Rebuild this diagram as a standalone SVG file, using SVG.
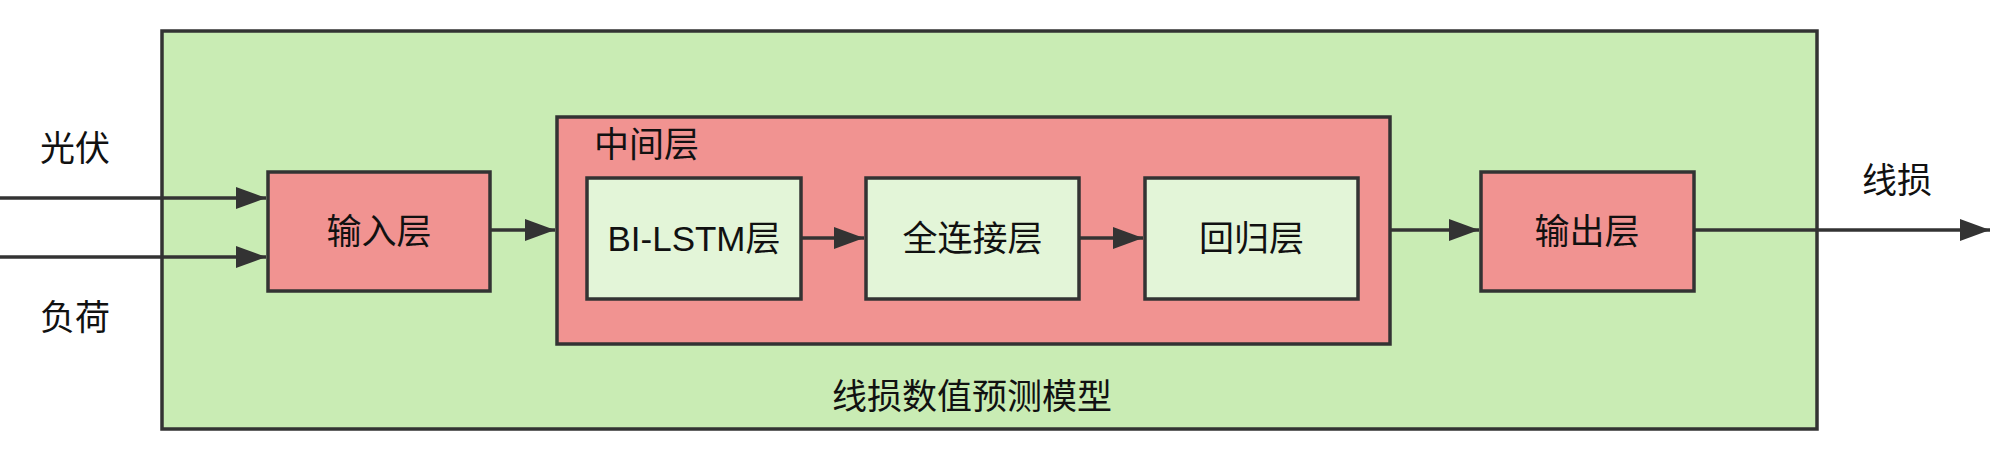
<svg xmlns="http://www.w3.org/2000/svg" width="2000" height="453" viewBox="0 0 2000 453">
<style>
.box{stroke:#333;stroke-width:3.5}
.green{fill:#c9ecb4}
.red{fill:#f19391}
.light{fill:#e3f5d8}
.t{font-family:"Liberation Sans","Noto Sans CJK SC",sans-serif;font-size:35px;fill:#111}
.c{text-anchor:middle;dominant-baseline:central}
.conn{stroke:#333;stroke-width:3.5;fill:none}
</style>
<defs>
<marker id="arr" markerUnits="userSpaceOnUse" markerWidth="32" markerHeight="24" refX="30" refY="11" orient="auto">
<path d="M0,0 L30,11 L0,22 Z" fill="#333"/>
</marker>
</defs>
<rect width="2000" height="453" fill="#fff"/>
<g id="model">
<rect class="box green" x="162" y="31" width="1655" height="398"/>
<text class="t c" x="972" y="396">线损数值预测模型</text>
</g>
<g id="input">
<rect class="box red" x="268" y="172" width="222" height="119"/>
<text class="t c" x="379" y="231">输入层</text>
</g>
<g id="middle">
<rect class="box red" x="557" y="117" width="833" height="227"/>
<text class="t" x="594" y="157">中间层</text>
</g>
<g id="bilstm">
<rect class="box light" x="587" y="178" width="214" height="121"/>
<text class="t c" x="694" y="238">BI-LSTM层</text>
</g>
<g id="fc">
<rect class="box light" x="866" y="178" width="213" height="121"/>
<text class="t c" x="972.5" y="238">全连接层</text>
</g>
<g id="reg">
<rect class="box light" x="1145" y="178" width="213" height="121"/>
<text class="t c" x="1251.5" y="238">回归层</text>
</g>
<g id="output">
<rect class="box red" x="1481" y="172" width="213" height="119"/>
<text class="t c" x="1587" y="231">输出层</text>
</g>
<g id="labels">
<text class="t c" x="75" y="148">光伏</text>
<text class="t c" x="75" y="317">负荷</text>
<text class="t c" x="1897" y="180">线损</text>
</g>
<g id="connectors">
<line class="conn" x1="0" y1="198" x2="266" y2="198" marker-end="url(#arr)"/>
<line class="conn" x1="0" y1="257" x2="266" y2="257" marker-end="url(#arr)"/>
<line class="conn" x1="490" y1="230" x2="555" y2="230" marker-end="url(#arr)"/>
<line class="conn" x1="801" y1="238" x2="864" y2="238" marker-end="url(#arr)"/>
<line class="conn" x1="1079" y1="238" x2="1143" y2="238" marker-end="url(#arr)"/>
<line class="conn" x1="1390" y1="230" x2="1479" y2="230" marker-end="url(#arr)"/>
<line class="conn" x1="1694" y1="230" x2="1990" y2="230" marker-end="url(#arr)"/>
</g>
</svg>
